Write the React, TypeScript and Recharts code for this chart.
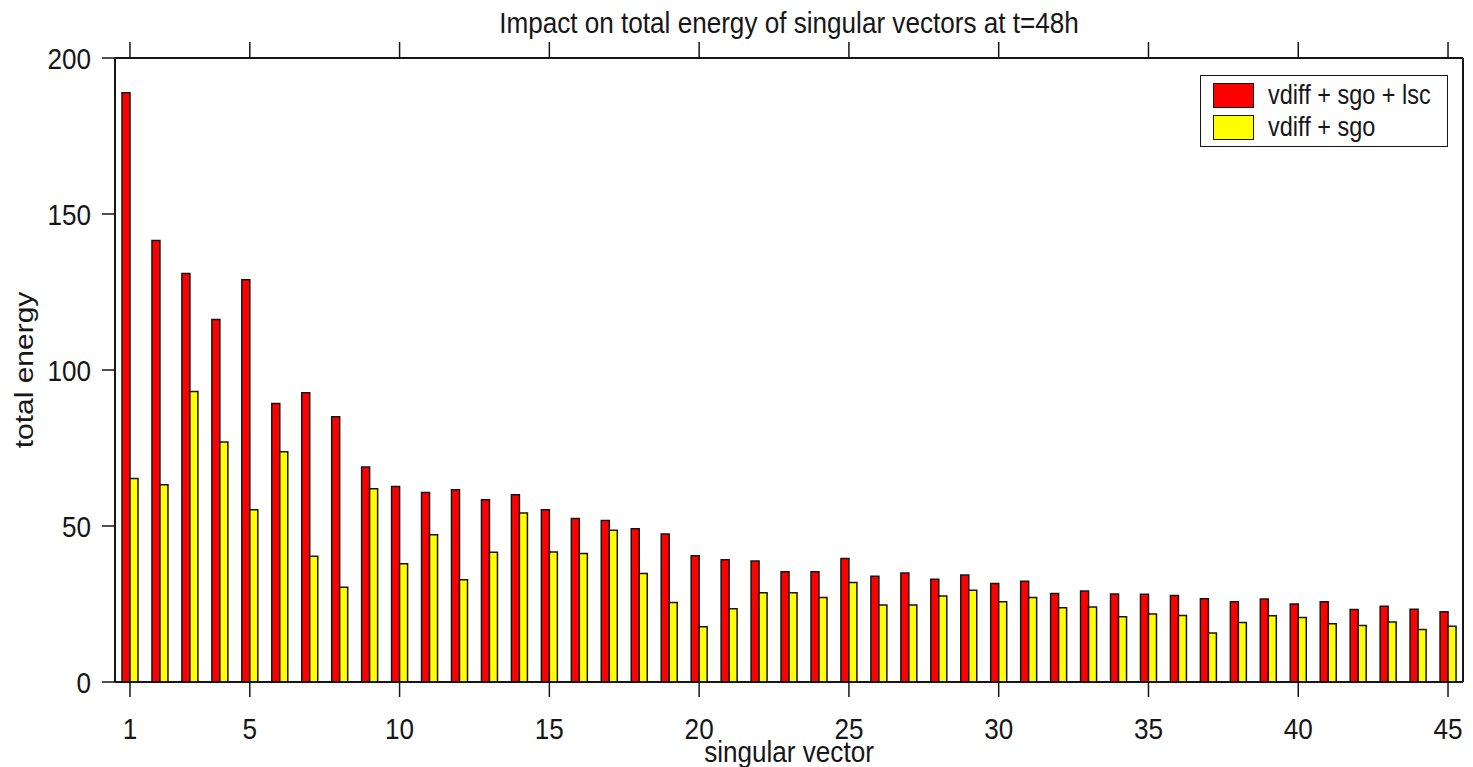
import { Bar, BarChart, Legend, XAxis, YAxis } from "recharts";

const vectors = [
  1, 2, 3, 4, 5, 6, 7, 8, 9, 10, 11, 12, 13, 14, 15, 16, 17, 18, 19, 20, 21, 22, 23,
  24, 25, 26, 27, 28, 29, 30, 31, 32, 33, 34, 35, 36, 37, 38, 39, 40, 41, 42, 43, 44, 45,
];

// vdiff + sgo + lsc
const withLsc = [
  188.9, 141.5, 130.9, 116.2, 128.9, 89.3, 92.7, 85.0, 68.9, 62.7, 60.7, 61.6, 58.4, 60.0,
  55.2, 52.4, 51.8, 49.1, 47.4, 40.5, 39.2, 38.8, 35.3, 35.3, 39.6, 33.9, 34.9, 32.9, 34.3,
  31.6, 32.3, 28.4, 29.2, 28.2, 28.1, 27.7, 26.7, 25.7, 26.6, 25.0, 25.7, 23.2, 24.3, 23.3,
  22.5,
];

// vdiff + sgo
const withoutLsc = [
  65.2, 63.2, 93.1, 76.9, 55.2, 73.8, 40.3, 30.4, 61.9, 37.9, 47.2, 32.8, 41.6, 54.2, 41.7,
  41.2, 48.6, 34.8, 25.5, 17.7, 23.5, 28.6, 28.6, 27.1, 31.9, 24.7, 24.7, 27.6, 29.4, 25.7,
  27.1, 23.8, 24.0, 20.9, 21.8, 21.3, 15.7, 19.1, 21.2, 20.7, 18.7, 18.1, 19.2, 16.8, 17.9,
];

const xTicks = [1, 5, 10, 15, 20, 25, 30, 35, 40, 45];
const yTicks = [0, 50, 100, 150, 200];
const seriesOrder = ["lsc", "nolsc"];

const data = vectors.map((sv, i) => ({
  sv,
  lsc: withLsc[i],
  nolsc: withoutLsc[i],
}));

const FONT = "'Liberation Sans', Arial, Helvetica, sans-serif";
const INK = "#161616";
const SQUEEZE = 0.87;

function XTick({ x, y, payload }: any) {
  return (
    <g transform={`translate(${x},${y}) scale(${SQUEEZE},1)`}>
      <text textAnchor="middle" dy="0.72em" fontSize={30} fontFamily={FONT} fill={INK}>
        {payload.value}
      </text>
    </g>
  );
}

function YTick({ x, y, payload }: any) {
  return (
    <g transform={`translate(${x},${y}) scale(${SQUEEZE},1)`}>
      <text textAnchor="end" dy="0.36em" fontSize={30} fontFamily={FONT} fill={INK}>
        {payload.value}
      </text>
    </g>
  );
}

function NoTick() {
  return <g />;
}

function LegendBox({ payload }: any) {
  const items = [...(payload ?? [])].sort(
    (a: any, b: any) => seriesOrder.indexOf(a.dataKey) - seriesOrder.indexOf(b.dataKey),
  );
  return (
    <div
      style={{
        border: `1.5px solid ${INK}`,
        background: "#fff",
        padding: "3px 0 3px 12px",
        boxSizing: "border-box",
        width: 248,
        height: 72,
      }}
    >
      {items.map((entry: any) => (
        <div
          key={entry.value}
          style={{ display: "flex", alignItems: "center", height: 32 }}
        >
          <span
            style={{
              width: 41,
              height: 25,
              boxSizing: "border-box",
              background: entry.color,
              border: `1.5px solid ${INK}`,
              flex: "none",
            }}
          />
          <span
            style={{
              marginLeft: 14,
              fontSize: 27,
              fontFamily: FONT,
              color: INK,
              whiteSpace: "nowrap",
              transform: `scaleX(${SQUEEZE})`,
              transformOrigin: "left center",
              lineHeight: "32px",
            }}
          >
            {entry.value}
          </span>
        </div>
      ))}
    </div>
  );
}

export default function App() {
  const axisStroke = { stroke: INK, strokeWidth: 2 };
  const tickStroke = { stroke: INK, strokeWidth: 1.5 };

  return (
    <div
      style={{
        position: "absolute",
        left: 0,
        top: 0,
        width: 1473,
        height: 767,
        background: "#fff",
        overflow: "hidden",
      }}
    >
      {/* plot area runs 115..1463, so the title is centred on 789 */}
      <div
        style={{
          position: "absolute",
          left: 0,
          width: (2 * 789) / SQUEEZE,
          top: 1,
          textAlign: "center",
          fontFamily: FONT,
          fontSize: 30,
          lineHeight: "44px",
          color: INK,
          transform: `scaleX(${SQUEEZE})`,
          transformOrigin: "0 0",
          whiteSpace: "nowrap",
          zIndex: 2,
        }}
      >
        Impact on total energy of singular vectors at t=48h
      </div>
      <BarChart
        width={1473}
        height={767}
        data={data}
        margin={{ top: 0, right: 0, bottom: 0, left: 0 }}
        barGap={0}
      >
        <XAxis
          xAxisId="bottom"
          dataKey="sv"
          type="category"
          orientation="bottom"
          height={85}
          ticks={xTicks}
          interval={0}
          axisLine={axisStroke}
          tickLine={tickStroke}
          tickSize={15}
          tickMargin={20}
          tick={<XTick />}
          label={{
            content: ({ viewBox }: any) => (
              <g
                transform={`translate(${viewBox.x + viewBox.width / 2},${viewBox.y + 80}) scale(${SQUEEZE},1)`}
              >
                <text textAnchor="middle" fontSize={30} fontFamily={FONT} fill={INK}>
                  singular vector
                </text>
              </g>
            ),
          }}
        />
        <XAxis
          xAxisId="top"
          dataKey="sv"
          type="category"
          orientation="top"
          height={58}
          ticks={xTicks}
          interval={0}
          axisLine={axisStroke}
          tickLine={tickStroke}
          tickSize={16}
          tick={<NoTick />}
        />
        <YAxis
          yAxisId="left"
          orientation="left"
          width={115}
          domain={[0, 200]}
          ticks={yTicks}
          interval={0}
          axisLine={axisStroke}
          tickLine={tickStroke}
          tickSize={13}
          tickMargin={11}
          tick={<YTick />}
          label={{
            content: ({ viewBox }: any) => (
              <g
                transform={`translate(33,${viewBox.y + viewBox.height / 2}) scale(${SQUEEZE},1) rotate(-90)`}
              >
                <text textAnchor="middle" fontSize={30} fontFamily={FONT} fill={INK}>
                  total energy
                </text>
              </g>
            ),
          }}
        />
        <YAxis
          yAxisId="right"
          orientation="right"
          width={10}
          domain={[0, 200]}
          ticks={yTicks}
          interval={0}
          axisLine={axisStroke}
          tickLine={tickStroke}
          tickSize={10}
          tick={<NoTick />}
        />
        <Legend
          layout="vertical"
          align="center"
          verticalAlign="middle"
          content={<LegendBox />}
          wrapperStyle={{ left: 1200, top: 75, width: 248, height: 72 }}
        />
        <Bar
          xAxisId="bottom"
          yAxisId="left"
          dataKey="lsc"
          name="vdiff + sgo + lsc"
          fill="#ff0000"
          stroke={INK}
          strokeWidth={1.5}
          barSize={8}
          isAnimationActive={false}
        />
        <Bar
          xAxisId="bottom"
          yAxisId="left"
          dataKey="nolsc"
          name="vdiff + sgo"
          fill="#ffff00"
          stroke={INK}
          strokeWidth={1.5}
          barSize={8}
          isAnimationActive={false}
        />
      </BarChart>
    </div>
  );
}
